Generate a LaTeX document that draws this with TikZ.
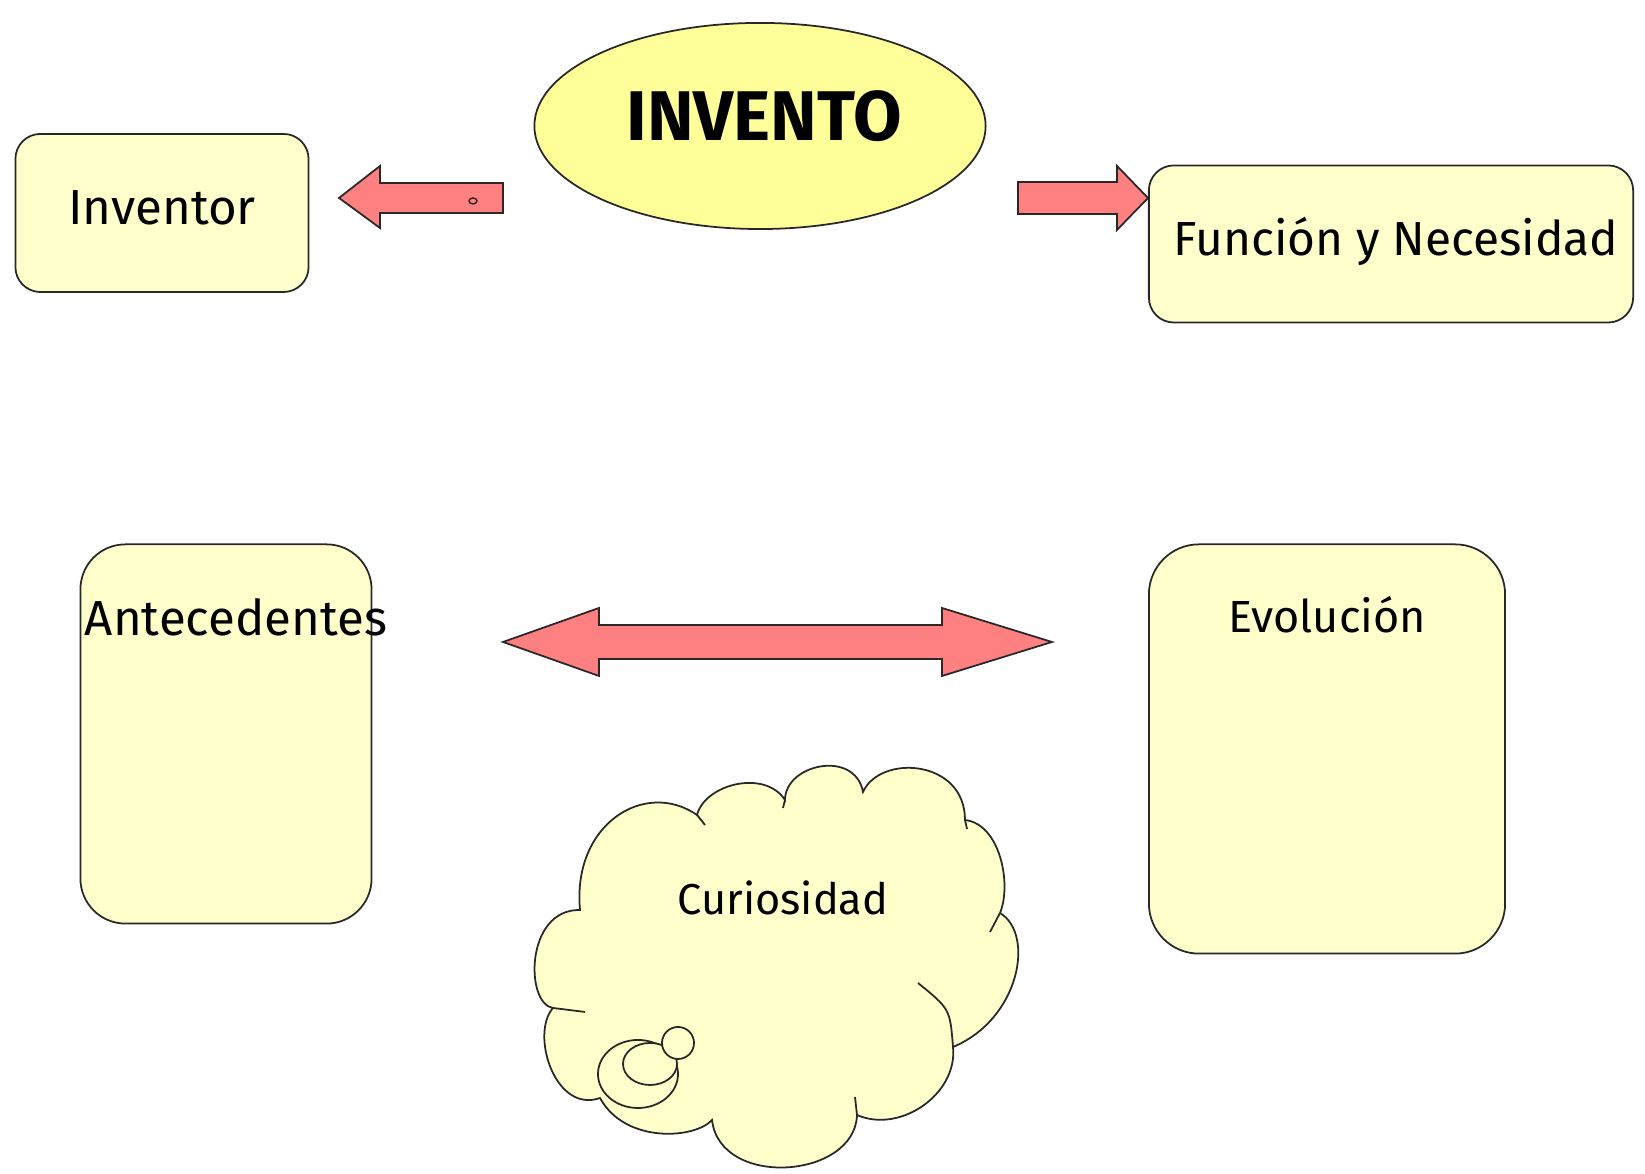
\documentclass[tikz,border=0pt]{standalone}
\usepackage{fontspec}
\setmainfont{Fira Sans}
\usetikzlibrary{positioning, shapes.geometric}
\definecolor{LY}{RGB}{255,255,204}
\definecolor{YE}{RGB}{255,255,153}
\definecolor{SR}{RGB}{255,128,128}
\definecolor{DG}{RGB}{40,40,40}

\begin{document}
\begin{tikzpicture}[x=0.01cm, y=0.01cm,
  box/.style={draw=DG, fill=LY, line width=0.5pt, inner sep=0pt},
  barrow/.style={draw=DG, fill=SR, line width=0.5pt},
  lbl/.style={font=\fontsize{14}{16}\selectfont, text=black}]
\useasboundingbox (0,0) rectangle (1645,1174);

% Title ellipse
\node[ellipse, draw=DG, fill=YE, line width=0.5pt, minimum width=4.51cm,
  minimum height=2.06cm, inner sep=0pt] (inventobox) at (760,1048) {};
\node[font=\fontsize{20}{24}\selectfont\bfseries] (invento) at (764,1058) {INVENTO};

% Boxes
\node[box, rounded corners=0.25cm, minimum width=2.93cm, minimum height=1.58cm]
  (inventorbox) at (162,961) {};
\node[box, rounded corners=0.25cm, minimum width=4.84cm, minimum height=1.57cm]
  (funcionbox) at (1391,930) {};
\node[box, rounded corners=0.45cm, minimum width=2.91cm, minimum height=3.79cm]
  (antbox) at (226,440) {};
\node[box, rounded corners=0.5cm, minimum width=3.56cm, minimum height=4.09cm]
  (evobox) at (1327,425) {};
\node[lbl] (inventor) at (162,966) {Inventor};
\node[lbl, font=\fontsize{13.6}{16}\selectfont] (funcion) at (1396,933) {Función y Necesidad};
\node[lbl] (antecedentes) at (236,557) {Antecedentes};
\node[lbl, font=\fontsize{12.8}{15}\selectfont] (evolucion) at (1327,559) {Evolución};

% Block arrows
\draw[barrow] (503,991) -- (380,991) -- (380,1008) -- (339,976) -- (380,946)
  -- (380,961) -- (503,961) -- cycle;
\draw[DG, line width=0.4pt] (473,973) ellipse (0.04cm and 0.03cm);
\draw[barrow] (1018,992) -- (1117,992) -- (1117,1008) -- (1148,976) -- (1117,944)
  -- (1117,960) -- (1018,960) -- cycle;
\draw[barrow] (503,532) -- (599,566) -- (599,549) -- (942,549) -- (942,566)
  -- (1052,532) -- (942,498) -- (942,515) -- (599,515) -- (599,498) -- cycle;

% Cloud
\draw[box] (580,264) .. controls (572,350) and (645,395) .. (697,359)
  .. controls (705,390) and (765,405) .. (785,374)
  .. controls (785,410) and (855,425) .. (863,382)
  .. controls (880,420) and (965,415) .. (965,354)
  .. controls (1000,350) and (1012,290) .. (1000,261)
  .. controls (1035,240) and (1020,155) .. (953,127)
  .. controls (958,80) and (900,40) .. (857,59)
  .. controls (855,-5) and (720,-15) .. (712,54)
  .. controls (695,35) and (625,30) .. (600,76)
  .. controls (555,60) and (530,140) .. (553,166)
  .. controls (525,170) and (525,265) .. (580,264) -- cycle;
\draw[DG, line width=0.5pt] (953,127) .. controls (950,165) .. (918,191);
\foreach \a/\b in {{697,359}/{705,349}, {785,374}/{783,366}, {965,354}/{967,345},
  {1000,261}/{990,242}, {857,59}/{855,77}, {553,166}/{585,162}}
  \draw[DG, line width=0.5pt] (\a) -- (\b);
\draw[box] (638,100) ellipse (0.40cm and 0.34cm);
\draw[box] (650,110) ellipse (0.27cm and 0.21cm);
\draw[box] (678,131) circle (0.16cm);
\node[lbl, font=\fontsize{12.3}{15}\selectfont] (curiosidad) at (783,276) {Curiosidad};
\end{tikzpicture}
\end{document}
